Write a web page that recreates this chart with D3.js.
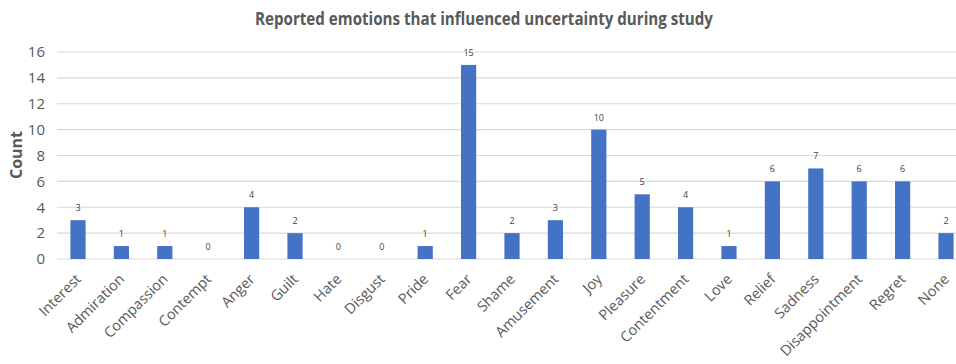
<!DOCTYPE html>
<html><head><meta charset="utf-8">
<script src="https://cdn.jsdelivr.net/npm/d3@7"></script>
<style>body{margin:0;background:#fff}svg{display:block}</style>
</head><body>
<script>
const categories = ["Interest","Admiration","Compassion","Contempt","Anger","Guilt","Hate","Disgust","Pride","Fear","Shame","Amusement","Joy","Pleasure","Contentment","Love","Relief","Sadness","Disappointment","Regret","None"];
const counts = [3,1,1,0,4,2,0,0,1,15,2,3,10,5,4,1,6,7,6,6,2];
const yTicks = [0,2,4,6,8,10,12,14,16];
const title = "Reported emotions that influenced uncertainty during study";
const yTitle = "Count";

const W = 956, H = 364;
const svg = d3.select("body").append("svg").attr("width", W).attr("height", H);
const font = "'Open Sans', sans-serif";
const x = d3.scaleBand().domain(categories).range([56.3, 967.7]).paddingInner(0.65).paddingOuter(0.325);
const y = d3.scaleLinear().domain([0,16]).range([259, 52]);

svg.append("g").selectAll("line").data(yTicks).join("line")
  .attr("x1", 57).attr("x2", W).attr("y1", d => y(d)).attr("y2", d => y(d))
  .attr("stroke", "#d9d9d9").attr("stroke-width", 1.2);

svg.append("g").selectAll("text").data(yTicks).join("text")
  .attr("x", 45).attr("y", d => y(d)).attr("dy", "0.35em").attr("text-anchor", "end")
  .attr("font-family", font).attr("font-size", 15).attr("fill", "#595959").text(d => d);

svg.append("g").selectAll("rect").data(counts).join("rect")
  .attr("x", (d,i) => x(categories[i])).attr("width", x.bandwidth())
  .attr("y", d => y(d)).attr("height", d => y(0) - y(d)).attr("fill", "#4472c4");

svg.append("g").selectAll("text").data(counts).join("text")
  .attr("x", (d,i) => x(categories[i]) + x.bandwidth()/2).attr("y", d => y(d) - 9)
  .attr("text-anchor", "middle").attr("font-family", font).attr("font-size", 9)
  .attr("fill", "#404040").text(d => d);

svg.append("g").selectAll("text").data(categories).join("text")
  .attr("transform", d => `translate(${x(d) + x.bandwidth()/2 + 4},${280}) rotate(-45)`)
  .attr("text-anchor", "end").attr("font-family", font).attr("font-size", 14.5)
  .attr("fill", "#595959").text(d => d);

svg.append("text").attr("x", 484).attr("y", 25).attr("text-anchor", "middle")
  .attr("font-family", font).attr("font-size", 18).attr("font-weight", "bold")
  .attr("textLength", 458).attr("lengthAdjust", "spacingAndGlyphs")
  .attr("fill", "#595959").text(title);

svg.append("text").attr("transform", "translate(22,155) rotate(-90)").attr("text-anchor", "middle")
  .attr("font-family", font).attr("font-size", 16).attr("font-weight", "bold")
  .attr("fill", "#595959").text(yTitle);
</script>
</body></html>
